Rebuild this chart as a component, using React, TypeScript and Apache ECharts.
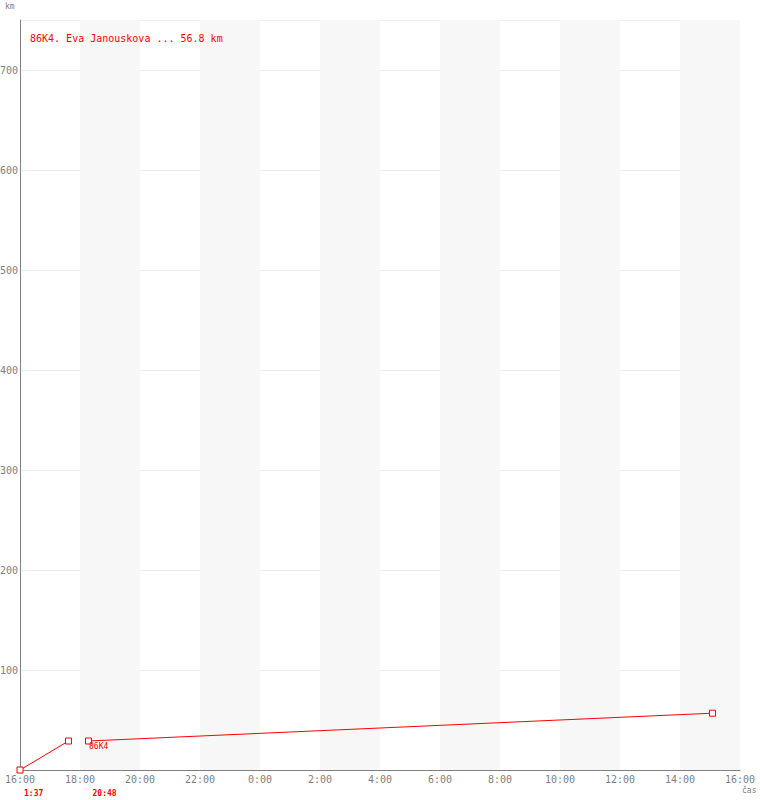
import React, { useEffect, useRef } from "react";
import * as echarts from "echarts";

// Track of one competitor: times of day, distance reached (km)
const segmentStart = ["16:00", "18:17"];
const segmentEnd = ["17:37", "15:05"];
const segmentStartKm = [0, 29];
const segmentEndKm = [29, 56.8];
const segmentDuration = ["1:37", "20:48"];
const segmentName = ["", "86K4"];

const legendText = "86K4. Eva Janouskova ... 56.8 km";
const axisStartHour = 16;
const hourSpan = 24;
const kmMax = 750;

const MONO = "'DejaVu Sans Mono', 'Liberation Mono', monospace";
const RED = "#ff0000";
const GREY = "#808080";

// hours elapsed since the axis start (16:00)
const toHours = (t: string) => {
  const [h, m] = t.split(":").map(Number);
  return (((h * 60 + m - axisStartHour * 60) % 1440) + 1440) % 1440 / 60;
};

export default function App() {
  const ref = useRef<HTMLDivElement>(null);

  useEffect(() => {
    document.body.style.margin = "0";
    if (!ref.current) return;
    const chart = echarts.init(ref.current, null, { renderer: "svg" });

    const series = segmentStart.map((s, i) => ({
      type: "line" as const,
      data: [
        {
          value: [toHours(s), segmentStartKm[i]],
          label: {
            show: segmentName[i] !== "",
            formatter: segmentName[i],
            position: [4, 5],
            align: "left",
            verticalAlign: "top",
            color: RED,
            fontFamily: MONO,
            fontSize: 8,
          },
        },
        { value: [toHours(segmentEnd[i]), segmentEndKm[i]] },
      ],
      symbol: "rect",
      symbolSize: 6,
      showAllSymbol: true,
      itemStyle: { color: "#ffffff", borderColor: RED, borderWidth: 1 },
      lineStyle: { color: RED, width: 1 },
      emphasis: { disabled: true },
      z: 5,
    }));

    chart.setOption({
      animation: false,
      backgroundColor: "#ffffff",
      grid: {
        left: 20,
        right: 20,
        top: 20,
        bottom: 30,
        containLabel: false,
        outerBoundsMode: "none",
      },
      xAxis: {
        type: "value",
        min: 0,
        max: hourSpan,
        interval: 2,
        axisLine: { show: true, lineStyle: { color: GREY, width: 1 } },
        axisTick: { show: false },
        splitLine: { show: false },
        splitArea: {
          show: true,
          areaStyle: { color: ["rgba(255,255,255,0)", "#f7f7f7"] },
        },
        axisLabel: {
          color: GREY,
          fontFamily: MONO,
          fontSize: 10,
          margin: 4,
          formatter: (v: number) => `${(axisStartHour + v) % 24}:00`,
        },
      },
      yAxis: {
        type: "value",
        min: 0,
        max: kmMax,
        interval: 100,
        axisLine: { show: true, lineStyle: { color: GREY, width: 1 } },
        axisTick: { show: false },
        splitLine: { show: true, lineStyle: { color: "#eeeeee", width: 1 } },
        axisLabel: {
          color: GREY,
          fontFamily: MONO,
          fontSize: 10,
          margin: 2,
          showMinLabel: false,
          showMaxLabel: false,
        },
      },
      series,
    });

    // elapsed-time labels under the axis, one per segment start
    const durationTexts = segmentStart.map((s, i) => {
      const [px] = chart.convertToPixel({ gridIndex: 0 }, [toHours(s), 0]) as number[];
      return {
        type: "text",
        x: px + 4,
        y: 789,
        style: {
          text: segmentDuration[i],
          fill: RED,
          font: `bold 8px ${MONO}`,
          textVerticalAlign: "top",
        },
      };
    });
    chart.setOption({
      graphic: [
        ...durationTexts,
        {
          type: "text",
          x: 30,
          y: 38,
          style: {
            text: legendText,
            fill: RED,
            font: `10px ${MONO}`,
            textVerticalAlign: "middle",
          },
        },
        {
          type: "text",
          x: 5,
          y: 6,
          style: { text: "km", fill: GREY, font: `8px ${MONO}`, textVerticalAlign: "middle" },
        },
        {
          type: "text",
          x: 742,
          y: 790,
          style: { text: "čas", fill: GREY, font: `8px ${MONO}`, textVerticalAlign: "middle" },
        },
      ],
    });

    return () => chart.dispose();
  }, []);

  return <div ref={ref} style={{ width: 760, height: 800 }} />;
}
